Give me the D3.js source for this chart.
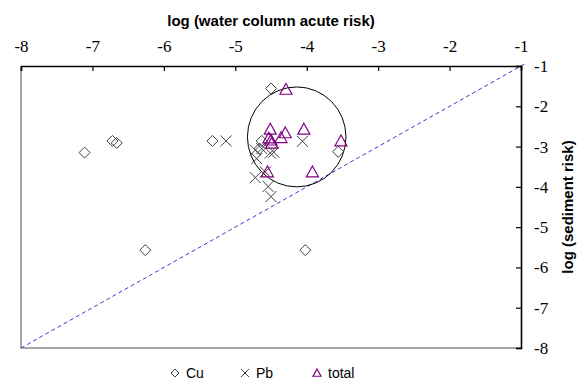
<!DOCTYPE html>
<html>
<head>
<meta charset="utf-8">
<script src="https://cdn.jsdelivr.net/npm/d3@7"></script>
<style>
  body { margin: 0; background: #fff; }
  svg { display: block; }
</style>
</head>
<body>
<svg id="chart" width="581" height="383"></svg>
<script>
// values (log10 units)
const cuX = [-7.11, -6.72, -6.66, -6.26, -5.32, -4.50, -4.63, -4.66, -3.56, -4.02];
const cuY = [-3.15, -2.86, -2.91, -5.57, -2.86, -1.56, -2.86, -3.05, -3.13, -5.57];

const pbX = [-5.13, -4.72, -4.63, -4.51, -4.70, -4.58, -4.72, -4.54, -4.50, -4.06, -4.46];
const pbY = [-2.86, -3.09, -3.05, -3.16, -3.30, -3.63, -3.77, -3.99, -4.24, -2.87, -3.14];

const totalX = [-4.29, -4.51, -4.30, -4.36, -4.04, -3.52, -3.92, -4.50, -4.49, -4.55, -4.53];
const totalY = [-1.58, -2.57, -2.66, -2.78, -2.57, -2.86, -3.63, -2.84, -2.92, -3.63, -2.79];

const xTicks = [-8, -7, -6, -5, -4, -3, -2, -1];
const yTicks = [-1, -2, -3, -4, -5, -6, -7, -8];

// 1:1 reference line and the highlight ellipse (data units)
const refLine = [[-8, -8], [-0.93, -0.93]];
const highlight = { cx: -4.14, cy: -2.76, rx: 0.69, ry: 1.24 };

const legendItems = ["Cu", "Pb", "total"];

const svg = d3.select("#chart");
const plot = { left: 21, right: 521, top: 66, bottom: 348 };

const x = d3.scaleLinear().domain([-8, -1]).range([plot.left, plot.right]);
const y = d3.scaleLinear().domain([-1, -8]).range([plot.top, plot.bottom]);

const grey = "#404040";
const purple = "#800080";
const serif = "Liberation Serif";
const sans = "Liberation Sans";

function diamond(g, px, py, r) {
  g.append("path")
    .attr("d", `M${px},${py - r}L${px + r},${py}L${px},${py + r}L${px - r},${py}Z`)
    .attr("fill", "none").attr("stroke", grey).attr("stroke-width", 1);
}
function cross(g, px, py, r) {
  g.append("path")
    .attr("d", `M${px - r},${py - r}L${px + r},${py + r}M${px - r},${py + r}L${px + r},${py - r}`)
    .attr("fill", "none").attr("stroke", grey).attr("stroke-width", 1);
}
function triangle(g, px, py, r) {
  const h = r * 1.8;
  g.append("path")
    .attr("d", `M${px},${py - h * 0.55}L${px + r},${py + h * 0.45}L${px - r},${py + h * 0.45}Z`)
    .attr("fill", "none").attr("stroke", purple).attr("stroke-width", 1.2);
}

// left / bottom frame (grey)
svg.append("path")
  .attr("d", `M${plot.left},${plot.top}V${plot.bottom}H${plot.right}`)
  .attr("fill", "none").attr("stroke", "#8a8a8a").attr("stroke-width", 1.5);

// 1:1 line
svg.append("line")
  .attr("x1", x(refLine[0][0])).attr("y1", y(refLine[0][1]))
  .attr("x2", x(refLine[1][0])).attr("y2", y(refLine[1][1]))
  .attr("stroke", "#3a3acc").attr("stroke-width", 1)
  .attr("stroke-dasharray", "4,3");

// highlight ellipse
svg.append("ellipse")
  .attr("cx", x(highlight.cx)).attr("cy", y(highlight.cy))
  .attr("rx", x(highlight.cx + highlight.rx) - x(highlight.cx))
  .attr("ry", y(highlight.cy - highlight.ry) - y(highlight.cy))
  .attr("fill", "none").attr("stroke", "#000").attr("stroke-width", 1);

// axes
const topAxis = svg.append("g")
  .attr("transform", `translate(0,${plot.top})`)
  .call(d3.axisTop(x).tickValues(xTicks).tickSize(-5).tickPadding(14));
const rightAxis = svg.append("g")
  .attr("transform", `translate(${plot.right},0)`)
  .call(d3.axisRight(y).tickValues(yTicks).tickSize(-5).tickPadding(13));

[topAxis, rightAxis].forEach((a) => {
  a.attr("font-family", serif).attr("font-size", 17);
  a.select(".domain").attr("stroke", "#000").attr("stroke-width", 1.6);
  a.selectAll(".tick line").attr("stroke", "#000").attr("stroke-width", 1.2);
  a.selectAll(".tick text")
    .attr("fill", "#000")
    .attr("font-family", serif)
    .attr("font-size", 17)
    .text((d) => String(d));
});

// axis titles
svg.append("text")
  .attr("x", (plot.left + plot.right) / 2).attr("y", 26)
  .attr("text-anchor", "middle")
  .attr("font-family", sans).attr("font-size", 15).attr("font-weight", "bold")
  .text("log (water column acute risk)");

svg.append("text")
  .attr("transform", `translate(573,${(plot.top + plot.bottom) / 2}) rotate(-90)`)
  .attr("text-anchor", "middle")
  .attr("font-family", sans).attr("font-size", 15).attr("font-weight", "bold")
  .text("log (sediment risk)");

// points
const marks = svg.append("g");
cuX.forEach((v, i) => diamond(marks, x(v), y(cuY[i]), 5.5));
pbX.forEach((v, i) => cross(marks, x(v), y(pbY[i]), 5.5));
totalX.forEach((v, i) => triangle(marks, x(v), y(totalY[i]), 6));

// legend
const legend = svg.append("g");
const legendPos = [175, 245, 317];
const drawers = [diamond, cross, triangle];
legendItems.forEach((name, i) => {
  drawers[i](legend, legendPos[i], 373, 4);
  legend.append("text")
    .attr("x", legendPos[i] + 11).attr("y", 378)
    .attr("font-family", sans).attr("font-size", 14)
    .text(name);
});
</script>
</body>
</html>
